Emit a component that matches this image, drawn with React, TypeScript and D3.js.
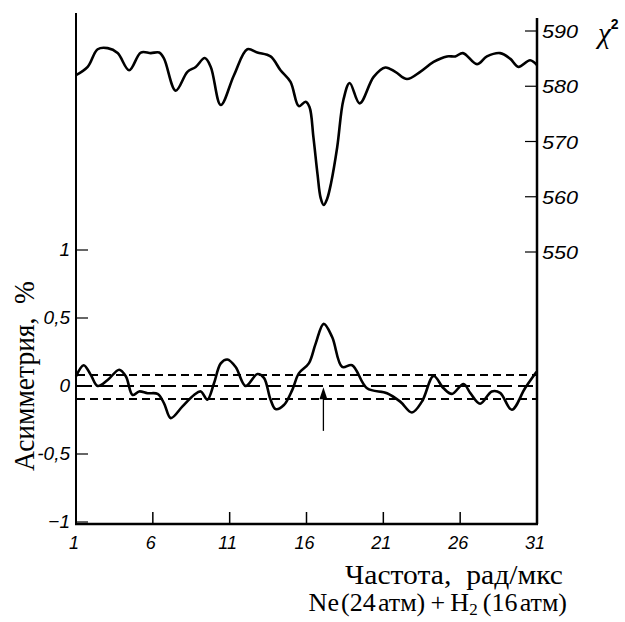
import React from "react";
import * as d3 from "d3";

// χ² curve (top), frequency vs value
const chiFreq = [1.0, 1.76, 2.41, 3.06, 3.71, 4.46, 5.22, 5.87, 6.41, 6.73, 7.49, 8.25, 8.79, 9.38, 9.77, 10.42, 11.28, 12.15, 12.8, 13.66, 14.31, 14.96, 15.5, 15.94, 16.2, 16.45, 16.72, 16.92, 17.12, 17.34, 17.6, 18.0, 18.4, 18.81, 19.46, 20.37, 21.13, 21.78, 22.54, 23.4, 24.27, 25.14, 25.68, 26.18, 27.09, 27.74, 28.6, 29.25, 29.79, 30.55, 31.0];
const chiValues = [582.0, 583.5, 586.7, 586.9, 586.0, 582.9, 586.1, 586.0, 586.1, 585.0, 579.2, 582.6, 583.5, 585.1, 583.5, 576.6, 582.0, 586.7, 586.1, 585.4, 582.9, 580.8, 576.4, 577.2, 576.2, 570.8, 564.0, 559.8, 558.5, 559.6, 562.5, 569.0, 577.5, 580.6, 576.9, 581.7, 583.4, 582.6, 581.3, 582.6, 584.4, 585.4, 585.4, 586.0, 584.0, 585.4, 586.0, 585.0, 583.5, 584.7, 583.8];

// Asymmetry curve (bottom), %
const asymFreq = [1.0, 1.5, 1.97, 2.41, 3.06, 3.81, 4.25, 4.68, 5.11, 5.66, 6.31, 6.73, 7.17, 7.93, 8.68, 9.12, 9.55, 9.98, 10.42, 10.85, 11.39, 12.04, 12.8, 13.23, 13.66, 13.99, 14.53, 15.07, 15.5, 16.15, 16.59, 17.12, 17.67, 18.32, 18.97, 19.94, 21.24, 22.1, 22.86, 23.51, 24.27, 24.92, 25.46, 26.22, 26.65, 27.3, 28.06, 28.6, 29.36, 30.22, 30.97];
const asymValues = [0.07, 0.153, 0.08, 0.0, 0.044, 0.12, 0.07, -0.066, -0.04, -0.053, -0.058, -0.127, -0.236, -0.15, -0.066, -0.04, -0.1, 0.02, 0.166, 0.195, 0.14, 0.0, 0.088, 0.06, -0.1, -0.17, -0.14, -0.03, 0.093, 0.166, 0.31, 0.457, 0.36, 0.14, 0.153, -0.017, -0.053, -0.115, -0.195, -0.115, 0.073, -0.017, -0.058, 0.015, -0.05, -0.13, -0.04, -0.05, -0.175, -0.017, 0.104];

const xTicks = [1, 6, 11, 16, 21, 26, 31];
const leftTicks = [1, 0.5, 0, -0.5, -1];
const leftTickLabels = ["1", "0,5", "0", "-0,5", "\u22121"];
const rightTicks = [590, 580, 570, 560, 550];
const bands = [
  { value: 0.08, dash: "8,5" },
  { value: 0.0, dash: "15,6" },
  { value: -0.095, dash: "8,5" },
];
const arrowFreq = 17.1;
const arrowFrom = -0.33;
const arrowTo = -0.01;

export default function App() {
  const W = 625, H = 622;
  const x = d3.scaleLinear().domain([1, 31]).range([76, 537]);
  const yA = d3.scaleLinear().domain([-1, 1]).range([522, 250]);
  const yC = d3.scaleLinear().domain([550, 590]).range([252, 31]);
  const axisBottomY = 524;

  const chiLine = d3
    .line<number>()
    .x((_, i) => x(chiFreq[i]))
    .y((d) => yC(d))
    .curve(d3.curveCatmullRom.alpha(0.5));
  const asymLine = d3
    .line<number>()
    .x((_, i) => x(asymFreq[i]))
    .y((d) => yA(d))
    .curve(d3.curveCatmullRom.alpha(0.5));

  const tickFont = "'Liberation Sans', Arial, sans-serif";
  const serif = "'Liberation Serif', 'Times New Roman', serif";
  const ax = x(arrowFreq);

  return (
    <svg width={W} height={H} style={{ position: "absolute", left: 0, top: 0, background: "#fff" }}>
      <rect width={W} height={H} fill="#fff" />
      {/* axes */}
      <line x1={76} y1={13} x2={76} y2={axisBottomY} stroke="#000" strokeWidth={2} />
      <line x1={537} y1={18} x2={537} y2={axisBottomY} stroke="#000" strokeWidth={2.5} />
      <line x1={75} y1={axisBottomY} x2={538} y2={axisBottomY} stroke="#000" strokeWidth={2.5} />

      {/* bottom ticks */}
      {xTicks.map((t) => (
        <g key={"xt" + t}>
          {t !== 1 && t !== 31 && (
            <line x1={x(t)} x2={x(t)} y1={axisBottomY} y2={axisBottomY - 12} stroke="#000" strokeWidth={1.5} />
          )}
          <text x={x(t) - 2} y={549} textAnchor="middle" fontFamily={tickFont} fontStyle="italic" fontSize={18} fill="#000">
            {t}
          </text>
        </g>
      ))}

      {/* left ticks */}
      {leftTicks.map((t, i) => (
        <g key={"lt" + t}>
          <line x1={76} x2={88} y1={yA(t)} y2={yA(t)} stroke="#000" strokeWidth={1.2} />
          <text x={70} y={yA(t) + 6} textAnchor="end" fontFamily={tickFont} fontStyle="italic" fontSize={19} fill="#000">
            {leftTickLabels[i]}
          </text>
        </g>
      ))}

      {/* right ticks */}
      {rightTicks.map((t) => (
        <g key={"rt" + t}>
          <line x1={525} x2={537} y1={yC(t)} y2={yC(t)} stroke="#000" strokeWidth={1.2} />
          <text x={542} y={yC(t) + 7} fontFamily={tickFont} fontStyle="italic" fontSize={19} fill="#000" textLength={36} lengthAdjust="spacingAndGlyphs">
            {t}
          </text>
        </g>
      ))}

      {/* chi^2 label */}
      <text x={598} y={43} fontFamily={serif} fontStyle="italic" fontSize={29} fill="#000">
        χ
        <tspan dy={-14} fontSize={14} fontWeight="bold" fontStyle="normal" fontFamily={tickFont}>2</tspan>
      </text>

      {/* bands */}
      {bands.map((b, i) => (
        <line key={"b" + i} x1={77} x2={536} y1={yA(b.value)} y2={yA(b.value)} stroke="#000" strokeWidth={2} strokeDasharray={b.dash} />
      ))}

      {/* arrow */}
      <line x1={ax} x2={ax} y1={yA(arrowFrom)} y2={yA(arrowTo) + 6} stroke="#000" strokeWidth={1.3} />
      <path d={`M${ax},${yA(arrowTo)} L${ax - 4},${yA(arrowTo) + 12} L${ax + 4},${yA(arrowTo) + 12} Z`} fill="#000" />

      {/* curves */}
      <path d={chiLine(chiValues) || ""} fill="none" stroke="#000" strokeWidth={2.6} strokeLinejoin="round" />
      <path d={asymLine(asymValues) || ""} fill="none" stroke="#000" strokeWidth={2.6} strokeLinejoin="round" />

      {/* axis titles */}
      <text transform="translate(34,376) rotate(-90)" textAnchor="middle" fontFamily={serif} fontSize={30} fill="#000" textLength={190} lengthAdjust="spacingAndGlyphs">
        Асимметрия,&#160;&#160;%
      </text>
      <text x={563} y={584} textAnchor="end" fontFamily={serif} fontSize={27} fill="#000" textLength={218} lengthAdjust="spacingAndGlyphs">
        Частота,&#160;&#160;рад/мкс
      </text>
      <text x={567} y={611} textAnchor="end" fontFamily={serif} fontSize={26} fill="#000">
        Ne&#8202;(24&#8202;атм)&#8201;+&#8201;H<tspan fontSize={17} dy={4}>2</tspan><tspan dy={-4}>&#8201;(16&#8202;атм)</tspan>
      </text>
    </svg>
  );
}
